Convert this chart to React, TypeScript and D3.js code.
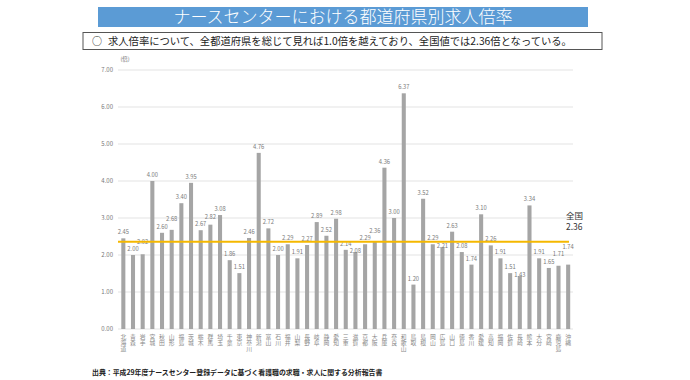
import React from "react";
import * as d3 from "d3";

const prefectures = ["北海道","青森","岩手","宮城","秋田","山形","福島","茨城","栃木","群馬","埼玉","千葉","東京","神奈川","新潟","富山","石川","福井","山梨","長野","岐阜","静岡","愛知","三重","滋賀","京都","大阪","兵庫","奈良","和歌山","鳥取","島根","岡山","広島","山口","徳島","香川","愛媛","高知","福岡","佐賀","長崎","熊本","大分","宮崎","鹿児島","沖縄"];
const ratios = [2.45,2.00,2.02,4.00,2.60,2.68,3.40,3.95,2.67,2.82,3.08,1.86,1.51,2.46,4.76,2.72,2.00,2.29,1.91,2.27,2.89,2.52,2.98,2.14,2.08,2.29,2.36,4.36,3.00,6.37,1.20,3.52,2.29,2.21,2.63,2.08,1.74,3.10,2.26,1.91,1.51,1.43,3.34,1.91,1.65,1.71,1.74];
const yTicks = [0,1,2,3,4,5,6,7];
const nationalValue = 2.36;
const titleText = "ナースセンターにおける都道府県別求人倍率";
const noteText = "求人倍率について、全都道府県を総じて見れば1.0倍を越えており、全国値では2.36倍となっている。";
const sourceText = "出典：平成29年度ナースセンター登録データに基づく看護職の求職・求人に関する分析報告書";

const FONT = "'Noto Sans CJK JP', 'Noto Sans', sans-serif";

export default function App() {
  const W = 690, H = 380;
  const x = d3.scaleBand<string>().domain(prefectures).range([118.5, 573]).paddingInner(0.58).paddingOuter(0.29);
  const y = d3.scaleLinear().domain([0, 7]).range([329, 70]);
  const bw = x.bandwidth();
  // label placement avoiding overlap with the previous neighbour
  const labelY: number[] = [];
  const gap = 7.5;
  ratios.forEach((v, i) => {
    let ly = y(v) - 4;
    if (i > 0) {
      const prev = labelY[i - 1];
      if (Math.abs(ly - prev) < gap) {
        ly = v >= ratios[i - 1] ? prev - gap : prev + gap;
      }
    }
    labelY.push(ly);
  });
  return (
    <svg width={W} height={H} style={{ position: "absolute", left: 0, top: 0, background: "#fff" }} fontFamily={FONT}>
      <rect x={98} y={7} width={490} height={20} fill="#5B9BD5" />
      <text x={343} y={23} textAnchor="middle" fill="#fff" fontSize={17} fontWeight={300}>{titleText}</text>
      <rect x={83} y={32.5} width={519} height={17} fill="#fff" stroke="#555" strokeWidth={1} />
      <text x={92} y={45} fontSize={10} fill="#222">○</text>
      <text x={108} y={45} fontSize={10.3} fill="#222">{noteText}</text>
      <text x={125} y={61} fontSize={5.5} fill="#666" textAnchor="middle">(倍)</text>
      {yTicks.map(t => (
        <g key={t}>
          <line x1={118} x2={573} y1={y(t)} y2={y(t)} stroke="#dcdcdc" strokeWidth={0.8} />
          <text x={113} y={y(t) + 2.2} fontSize={6} fill="#777" textAnchor="end">{t.toFixed(2)}</text>
        </g>
      ))}
      {prefectures.map((p, i) => (
        <g key={p}>
          <rect x={x(p)} y={y(ratios[i])} width={bw} height={y(0) - y(ratios[i])} fill="#A5A5A5" />
          <text x={(x(p) as number) + bw / 2} y={labelY[i]} fontSize={5.8} fill="#7a7a7a" textAnchor="middle">{ratios[i].toFixed(2)}</text>
          <text x={(x(p) as number) + bw / 2} y={334} fontSize={5.8} fill="#888" style={{ writingMode: "vertical-rl", textOrientation: "upright" } as any}>{p}</text>
        </g>
      ))}
      <line x1={118} x2={569} y1={y(nationalValue)} y2={y(nationalValue)} stroke="#F5B800" strokeWidth={2} />
      <text x={566} y={219} fontSize={8.5} fill="#333">全国</text>
      <text x={566} y={230} fontSize={8.5} fill="#333">{nationalValue.toFixed(2)}</text>
      <text x={92} y={375} fontSize={6.9} fontWeight={700} fill="#222">{sourceText}</text>
    </svg>
  );
}
